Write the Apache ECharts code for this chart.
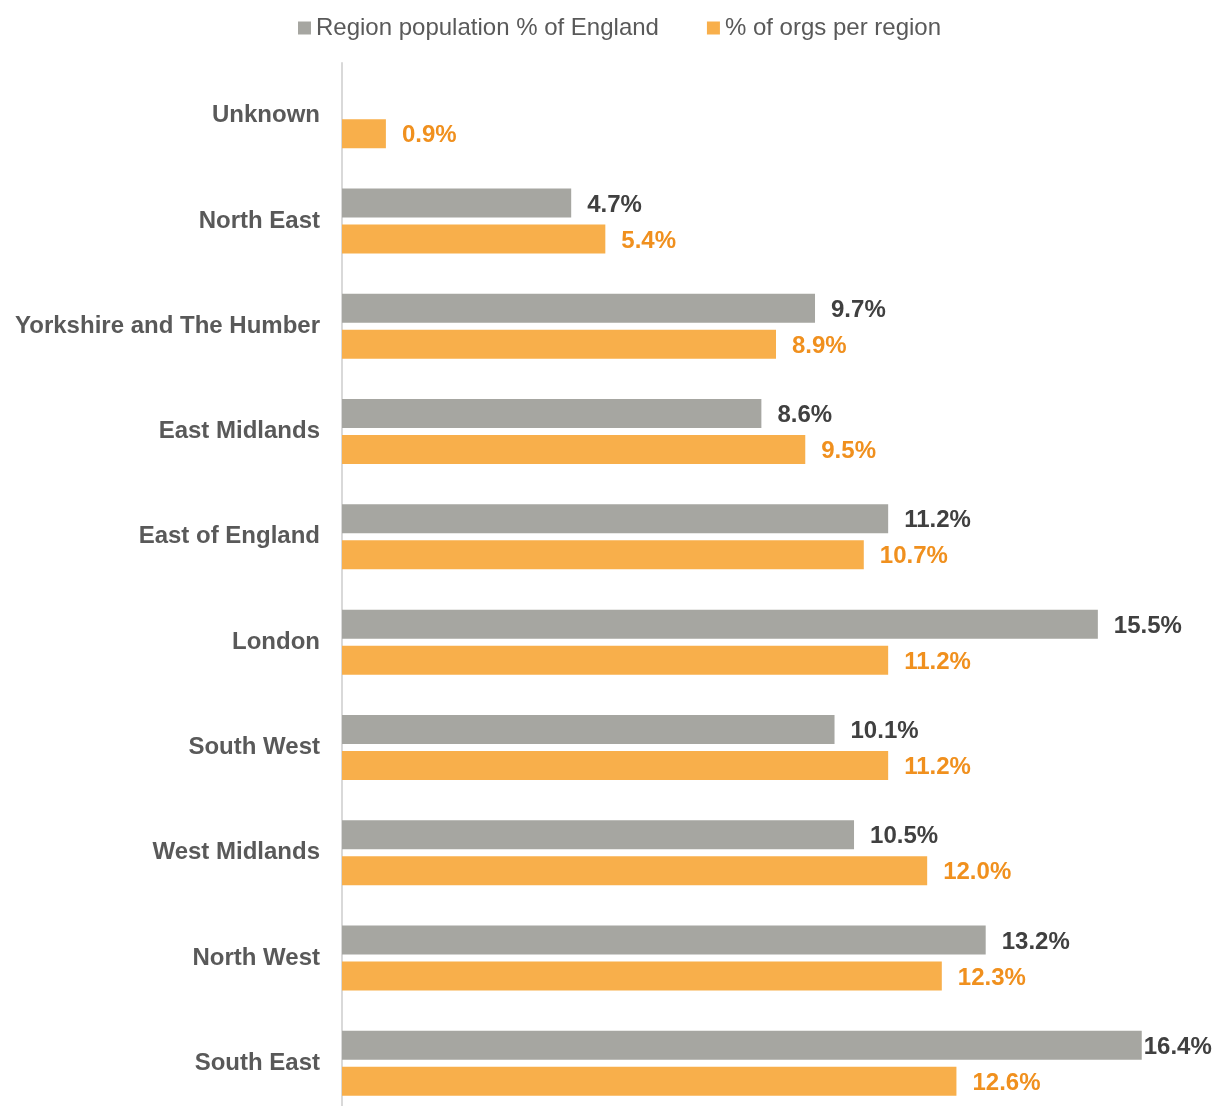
<!DOCTYPE html>
<html>
<head>
<meta charset="utf-8">
<style>
  html, body { margin: 0; padding: 0; background: #ffffff; overflow: hidden; }
  #chart { width: 1213px; height: 1120px; }
</style>
<script src="https://cdn.jsdelivr.net/npm/echarts@6/dist/echarts.min.js"></script>
</head>
<body>
<div id="chart"></div>
<script>
// Regions, top to bottom
const regions = [
  'Unknown', 'North East', 'Yorkshire and The Humber', 'East Midlands',
  'East of England', 'London', 'South West', 'West Midlands',
  'North West', 'South East'
];
// Share of England's population living in each region (%)
const populationShare = [null, 4.7, 9.7, 8.6, 11.2, 15.5, 10.1, 10.5, 13.2, 16.4];
// Share of organisations based in each region (%)
const orgShare = [0.9, 5.4, 8.9, 9.5, 10.7, 11.2, 11.2, 12.0, 12.3, 12.6];

const seriesNames = ['Region population % of England', '% of orgs per region'];

const GREY = '#a6a6a1';
const ORANGE = '#f8af4b';
const FONT = '"Liberation Sans", Arial, sans-serif';
const SIZE = 24;

const chart = echarts.init(document.getElementById('chart'));

function pct(p) { return p.value.toFixed(1) + '%'; }

chart.setOption({
  animation: false,
  backgroundColor: '#ffffff',
  legend: {
    top: 16,
    left: 298,
    padding: 0,
    itemWidth: 13,
    itemHeight: 13,
    itemGap: 48,
    icon: 'rect',
    textStyle: { fontFamily: FONT, fontSize: SIZE, color: '#595959' },
    data: seriesNames
  },
  grid: { left: 342, top: 63, width: 829, height: 1053, containLabel: false },
  xAxis: {
    type: 'value',
    min: 0,
    max: 17,
    show: false
  },
  yAxis: {
    type: 'category',
    inverse: true,
    data: regions,
    axisLine: { show: true, lineStyle: { color: '#d9d9d9', width: 2 } },
    axisTick: { show: false },
    axisLabel: {
      fontFamily: FONT, fontSize: SIZE, fontWeight: 'bold', color: '#595959',
      margin: 22, padding: [4, 0, 0, 0]
    }
  },
  series: [
    {
      name: seriesNames[0],
      type: 'bar',
      barWidth: 29,
      barGap: '24%',
      itemStyle: { color: GREY },
      label: {
        show: true, position: 'right', distance: 16, offset: [0, 2], formatter: pct,
        fontFamily: FONT, fontSize: SIZE, fontWeight: 'bold', color: '#404040'
      },
      data: populationShare.map(v => v === 16.4
        ? { value: v, label: { distance: 2 } }
        : v)
    },
    {
      name: seriesNames[1],
      type: 'bar',
      barWidth: 29,
      barGap: '24%',
      itemStyle: { color: ORANGE },
      label: {
        show: true, position: 'right', distance: 16, offset: [0, 2], formatter: pct,
        fontFamily: FONT, fontSize: SIZE, fontWeight: 'bold', color: '#f0901e'
      },
      data: orgShare
    }
  ]
});
</script>
</body>
</html>
